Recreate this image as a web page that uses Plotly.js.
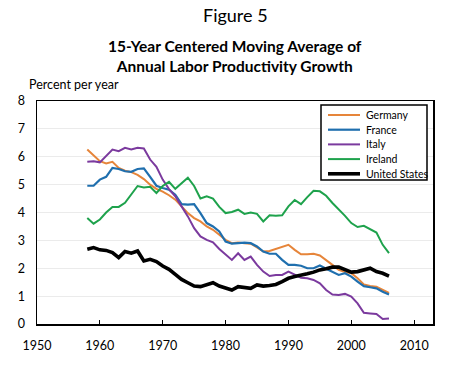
<!DOCTYPE html>
<html><head><meta charset="utf-8">
<script src="https://cdn.plot.ly/plotly-3.0.1.min.js"></script>
<style>html,body{margin:0;padding:0;background:#fff}</style>
</head><body><div id="chart" style="width:468px;height:381px"></div>
<script>
const years = [1958,1959,1960,1961,1962,1963,1964,1965,1966,1967,1968,1969,1970,1971,1972,1973,1974,1975,1976,1977,1978,1979,1980,1981,1982,1983,1984,1985,1986,1987,1988,1989,1990,1991,1992,1993,1994,1995,1996,1997,1998,1999,2000,2001,2002,2003,2004,2005,2006];
const germany = [6.26,6.05,5.84,5.76,5.82,5.6,5.5,5.45,5.35,5.2,5.0,4.85,4.75,4.62,4.46,4.22,3.98,3.8,3.68,3.5,3.38,3.2,3.02,2.9,2.92,2.9,2.88,2.75,2.6,2.62,2.7,2.78,2.84,2.66,2.5,2.5,2.52,2.46,2.3,2.12,1.94,1.86,1.82,1.64,1.42,1.36,1.34,1.22,1.12];
const france = [4.96,4.96,5.18,5.28,5.6,5.56,5.48,5.46,5.56,5.58,5.28,4.96,4.88,4.82,4.64,4.3,4.28,4.3,3.98,3.62,3.5,3.32,2.96,2.88,2.9,2.92,2.9,2.78,2.6,2.52,2.52,2.3,2.12,2.12,2.09,2.0,2.0,2.1,1.98,1.88,1.76,1.82,1.7,1.52,1.36,1.32,1.28,1.16,1.06];
const italy = [5.82,5.84,5.8,6.02,6.26,6.2,6.32,6.26,6.32,6.3,5.9,5.64,5.18,4.84,4.58,4.22,3.86,3.44,3.14,3.02,2.93,2.69,2.48,2.3,2.54,2.3,2.42,2.12,1.88,1.72,1.76,1.76,1.88,1.76,1.66,1.64,1.58,1.46,1.22,1.06,1.04,1.08,0.98,0.74,0.4,0.38,0.36,0.18,0.2];
const ireland = [3.8,3.6,3.75,4.0,4.2,4.2,4.35,4.65,4.95,4.9,4.92,4.7,4.95,5.1,4.85,5.05,5.25,4.95,4.5,4.58,4.5,4.2,3.98,4.02,4.1,3.95,4.0,3.95,3.68,3.9,3.88,3.9,4.22,4.45,4.3,4.55,4.78,4.76,4.6,4.34,4.12,3.88,3.62,3.48,3.52,3.4,3.28,2.84,2.54];
const unitedStates = [2.68,2.74,2.66,2.64,2.56,2.38,2.6,2.54,2.62,2.26,2.32,2.24,2.08,1.96,1.78,1.6,1.48,1.36,1.34,1.42,1.48,1.36,1.28,1.22,1.34,1.32,1.28,1.4,1.36,1.38,1.42,1.52,1.64,1.7,1.74,1.8,1.86,1.94,1.98,2.04,2.04,1.94,1.86,1.88,1.94,2.0,1.88,1.82,1.72];

const seriesNames = ['Germany','France','Italy','Ireland','United States'];
const seriesData = [germany, france, italy, ireland, unitedStates];
const colors = ['#E6853A','#1F6FAE','#7B3A9E','#1EA24C','#000000'];
const widths = [2,2.2,2,2,3.6];
const xTicks = [1950,1960,1970,1980,1990,2000,2010];
const yTicks = [0,1,2,3,4,5,6,7,8];

const FONT = 'Lato, Carlito, "Open Sans", sans-serif';
// plot area in pixels: left 37, right 433, top 101, bottom 324
const PL=37, PW=396, PB=324, PH=223;
const px = v => (v-PL)/PW;
const py = v => (PB-v)/PH;

const traces = seriesNames.map((n,i)=>({
  x: years, y: seriesData[i], name: n, type:'scatter', mode:'lines',
  line:{color:colors[i], width:widths[i]}, showlegend:false
}));

// legend drawn as a boxed key (paper coordinates)
const shapes = [{type:'rect', xref:'paper', yref:'paper', x0:px(321), x1:px(427), y0:py(105), y1:py(180),
  line:{color:'#000', width:1.5}, fillcolor:'#fff', layer:'above'}];
const annotations = [
  {text:'Figure 5', xref:'paper', yref:'paper', x:0.5, y:py(15), xanchor:'center', yanchor:'middle', showarrow:false,
   font:{size:18, family:FONT}},
  {text:'<b>15-Year Centered Moving Average of</b><br><b>Annual Labor Productivity Growth</b>', xref:'paper', yref:'paper',
   x:0.5, y:py(56), xanchor:'center', yanchor:'middle', showarrow:false, font:{size:15.5, family:FONT}},
  {text:'Percent per year', xref:'paper', yref:'paper', x:px(27), y:py(84), xanchor:'left', yanchor:'middle',
   showarrow:false, font:{size:12.5, family:FONT}}
];
seriesNames.forEach((n,i)=>{
  const cy = 115 + i*14.7;
  shapes.push({type:'line', xref:'paper', yref:'paper', x0:px(328), x1:px(360), y0:py(cy), y1:py(cy),
    line:{color:colors[i], width:widths[i]}, layer:'above'});
  annotations.push({text:n, xref:'paper', yref:'paper', x:px(364), y:py(cy), xanchor:'left', yanchor:'middle',
    showarrow:false, font:{size:10.5, family:FONT}});
});

const layout = {
  width:468, height:381,
  margin:{l:PL, r:468-PL-PW, t:PB-PH, b:381-PB},
  paper_bgcolor:'#fff', plot_bgcolor:'#fff',
  font:{family:FONT, size:12, color:'#000'},
  showlegend:false,
  xaxis:{range:[1950,2013], tickvals:xTicks, ticks:'inside', ticklen:4, tickcolor:'#000',
         showline:true, linecolor:'#000', linewidth:1.5, mirror:true, showgrid:false, zeroline:false,
         ticklabelstandoff:9, tickfont:{size:12.5, family:FONT}},
  yaxis:{range:[0,8], tickvals:yTicks, ticks:'', 
         showline:true, linecolor:'#000', linewidth:1.5, mirror:true, showgrid:true, gridcolor:'#ebebeb', zeroline:false,
         ticklabelstandoff:8, tickfont:{size:12.5, family:FONT}},
  shapes: shapes,
  annotations: annotations
};
Plotly.newPlot('chart', traces, layout, {displayModeBar:false, staticPlot:true});
</script></body></html>
